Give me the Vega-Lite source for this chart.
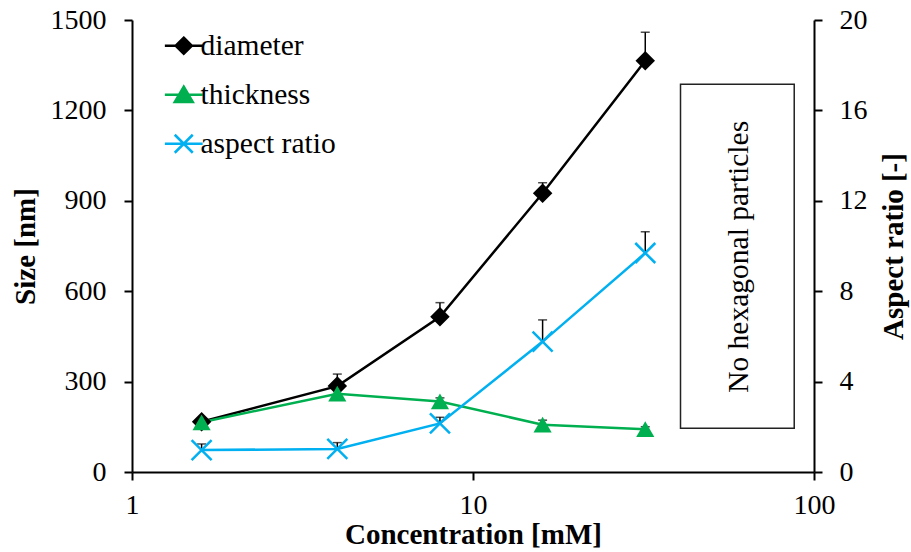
{
  "$schema": "https://vega.github.io/schema/vega-lite/v6.json",
  "width": 682,
  "height": 452,
  "autosize": {"type": "none"},
  "padding": {"left": 132, "top": 20, "right": 97, "bottom": 80},
  "background": "white",
  "config": {
    "view": {"stroke": null},
    "font": "'Liberation Serif', 'DejaVu Serif', serif",
    "axis": {
      "grid": false,
      "domainColor": "black",
      "domainWidth": 2,
      "tickColor": "black",
      "tickWidth": 2,
      "tickSize": 8,
      "labelFont": "'Liberation Serif', 'DejaVu Serif', serif",
      "labelFontSize": 28,
      "labelColor": "black",
      "titleFont": "'Liberation Serif', 'DejaVu Serif', serif",
      "titleFontSize": 29,
      "titleFontWeight": "bold",
      "titleColor": "black"
    }
  },
  "datasets": {
    "size": [
      {"conc": 1.6, "series": "diameter", "value": 167, "hi": 177},
      {"conc": 4, "series": "diameter", "value": 285, "hi": 325},
      {"conc": 8, "series": "diameter", "value": 515, "hi": 562},
      {"conc": 16, "series": "diameter", "value": 925, "hi": 960},
      {"conc": 32, "series": "diameter", "value": 1365, "hi": 1459},
      {"conc": 1.6, "series": "thickness", "value": 165, "hi": 178},
      {"conc": 4, "series": "thickness", "value": 260, "hi": 272},
      {"conc": 8, "series": "thickness", "value": 234, "hi": 246},
      {"conc": 16, "series": "thickness", "value": 157, "hi": 172},
      {"conc": 32, "series": "thickness", "value": 142, "hi": 150}
    ],
    "aspect": [
      {"conc": 1.6, "series": "aspect ratio", "value": 0.97, "hi": 1.24},
      {"conc": 4, "series": "aspect ratio", "value": 1.02, "hi": 1.3},
      {"conc": 8, "series": "aspect ratio", "value": 2.15, "hi": 2.42},
      {"conc": 16, "series": "aspect ratio", "value": 5.77, "hi": 6.73},
      {"conc": 32, "series": "aspect ratio", "value": 9.69, "hi": 10.63}
    ],
    "box": [
      {"conc": 40.6, "conc2": 87.5, "value": 145, "value2": 1287}
    ],
    "note": [
      {"conc": 60.3, "value": 714, "label": "No hexagonal particles"}
    ]
  },
  "encoding": {
    "x": {
      "field": "conc",
      "type": "quantitative",
      "scale": {"type": "log", "domain": [1, 100]},
      "axis": {
        "title": "Concentration [mM]",
        "values": [1, 10, 100],
        "format": "d",
        "labelPadding": 11,
        "titlePadding": 1,
        "labelFlush": false
      }
    }
  },
  "layer": [
    {
      "encoding": {
        "y": {
          "field": "value",
          "type": "quantitative",
          "scale": {"domain": [0, 1500], "nice": false},
          "axis": {
            "title": "Size [nm]",
            "values": [0, 300, 600, 900, 1200, 1500],
            "format": "d",
            "labelPadding": 18,
            "titlePadding": 10,
            "labelFlush": false
          }
        }
      },
      "layer": [
        {
          "data": {"name": "box"},
          "mark": {"type": "rect", "fill": null, "fillOpacity": 0, "stroke": "#222222", "strokeWidth": 1.5},
          "encoding": {"x2": {"field": "conc2"}, "y2": {"field": "value2"}}
        },
        {
          "data": {"name": "note"},
          "mark": {"type": "text", "angle": 270, "align": "center", "baseline": "middle", "font": "'Liberation Serif', 'DejaVu Serif', serif", "fontSize": 29.5, "color": "black"},
          "encoding": {"text": {"field": "label"}}
        },
        {
          "data": {"name": "size"},
          "mark": {"type": "line", "strokeWidth": 2.5},
          "encoding": {
            "color": {
              "field": "series",
              "type": "nominal",
              "scale": {"domain": ["diameter", "thickness", "aspect ratio"], "range": ["#000000", "#00b050", "#00b0f0"]},
              "legend": {
                "title": null,
                "orient": "none",
                "legendX": 37,
                "legendY": 11,
                "labelFont": "'Liberation Serif', 'DejaVu Serif', serif",
                "labelFontSize": 29.5,
                "labelColor": "black",
                "symbolSize": 324,
                "symbolStrokeWidth": 2.5,
                "rowPadding": 18,
                "labelOffset": 2,
                "encode": {
                  "symbols": {
                    "update": {
                      "shape": {"signal": "datum.value === 'diameter' ? 'M-2.1,0H2.1M0,-0.9L0.9,0L0,0.9L-0.9,0Z' : (datum.value === 'thickness' ? 'M-2.1,0H2.1M0,-0.9L1,0.8L-1,0.8Z' : 'M-2.1,0H2.1M-1,-1L1,1M-1,1L1,-1')"},
                      "fill": {"scale": "color", "field": "value"},
                      "stroke": {"scale": "color", "field": "value"},
                      "strokeWidth": {"value": 2.5},
                      "opacity": {"value": 1}
                    }
                  }
                }
              }
            }
          }
        },
        {
          "data": {"name": "size"},
          "mark": {"type": "rule", "color": "black", "strokeWidth": 1.5},
          "encoding": {"y2": {"field": "hi"}}
        },
        {
          "data": {"name": "size"},
          "mark": {"type": "tick", "orient": "horizontal", "color": "black", "size": 9, "thickness": 1.5},
          "encoding": {"y": {"field": "hi", "type": "quantitative"}}
        },
        {
          "data": {"name": "size"},
          "transform": [{"filter": "datum.series === 'diameter'"}],
          "mark": {"type": "point", "shape": "diamond", "filled": true, "size": 380, "color": "#000000", "opacity": 1}
        },
        {
          "data": {"name": "size"},
          "transform": [{"filter": "datum.series === 'thickness'"}],
          "mark": {"type": "point", "shape": "triangle-up", "filled": true, "size": 330, "color": "#00b050", "opacity": 1}
        }
      ]
    },
    {
      "data": {"name": "aspect"},
      "encoding": {
        "y": {
          "field": "value",
          "type": "quantitative",
          "scale": {"domain": [0, 20], "nice": false},
          "axis": {
            "orient": "right",
            "title": "Aspect ratio [-]",
            "titleAngle": 270,
            "titleBaseline": "top",
            "values": [0, 4, 8, 12, 16, 20],
            "labelPadding": 17,
            "titlePadding": 12,
            "labelFlush": false
          }
        }
      },
      "layer": [
        {
          "mark": {"type": "line", "strokeWidth": 2.5, "color": "#00b0f0"}
        },
        {
          "mark": {"type": "rule", "color": "black", "strokeWidth": 1.5},
          "encoding": {"y2": {"field": "hi"}}
        },
        {
          "mark": {"type": "tick", "orient": "horizontal", "color": "black", "size": 9, "thickness": 1.5},
          "encoding": {"y": {"field": "hi", "type": "quantitative"}}
        },
        {
          "mark": {"type": "point", "shape": "M-1,-1L1,1M-1,1L1,-1", "filled": false, "size": 400, "strokeWidth": 2.5, "color": "#00b0f0", "opacity": 1}
        }
      ]
    }
  ],
  "resolve": {"scale": {"y": "independent"}}
}
